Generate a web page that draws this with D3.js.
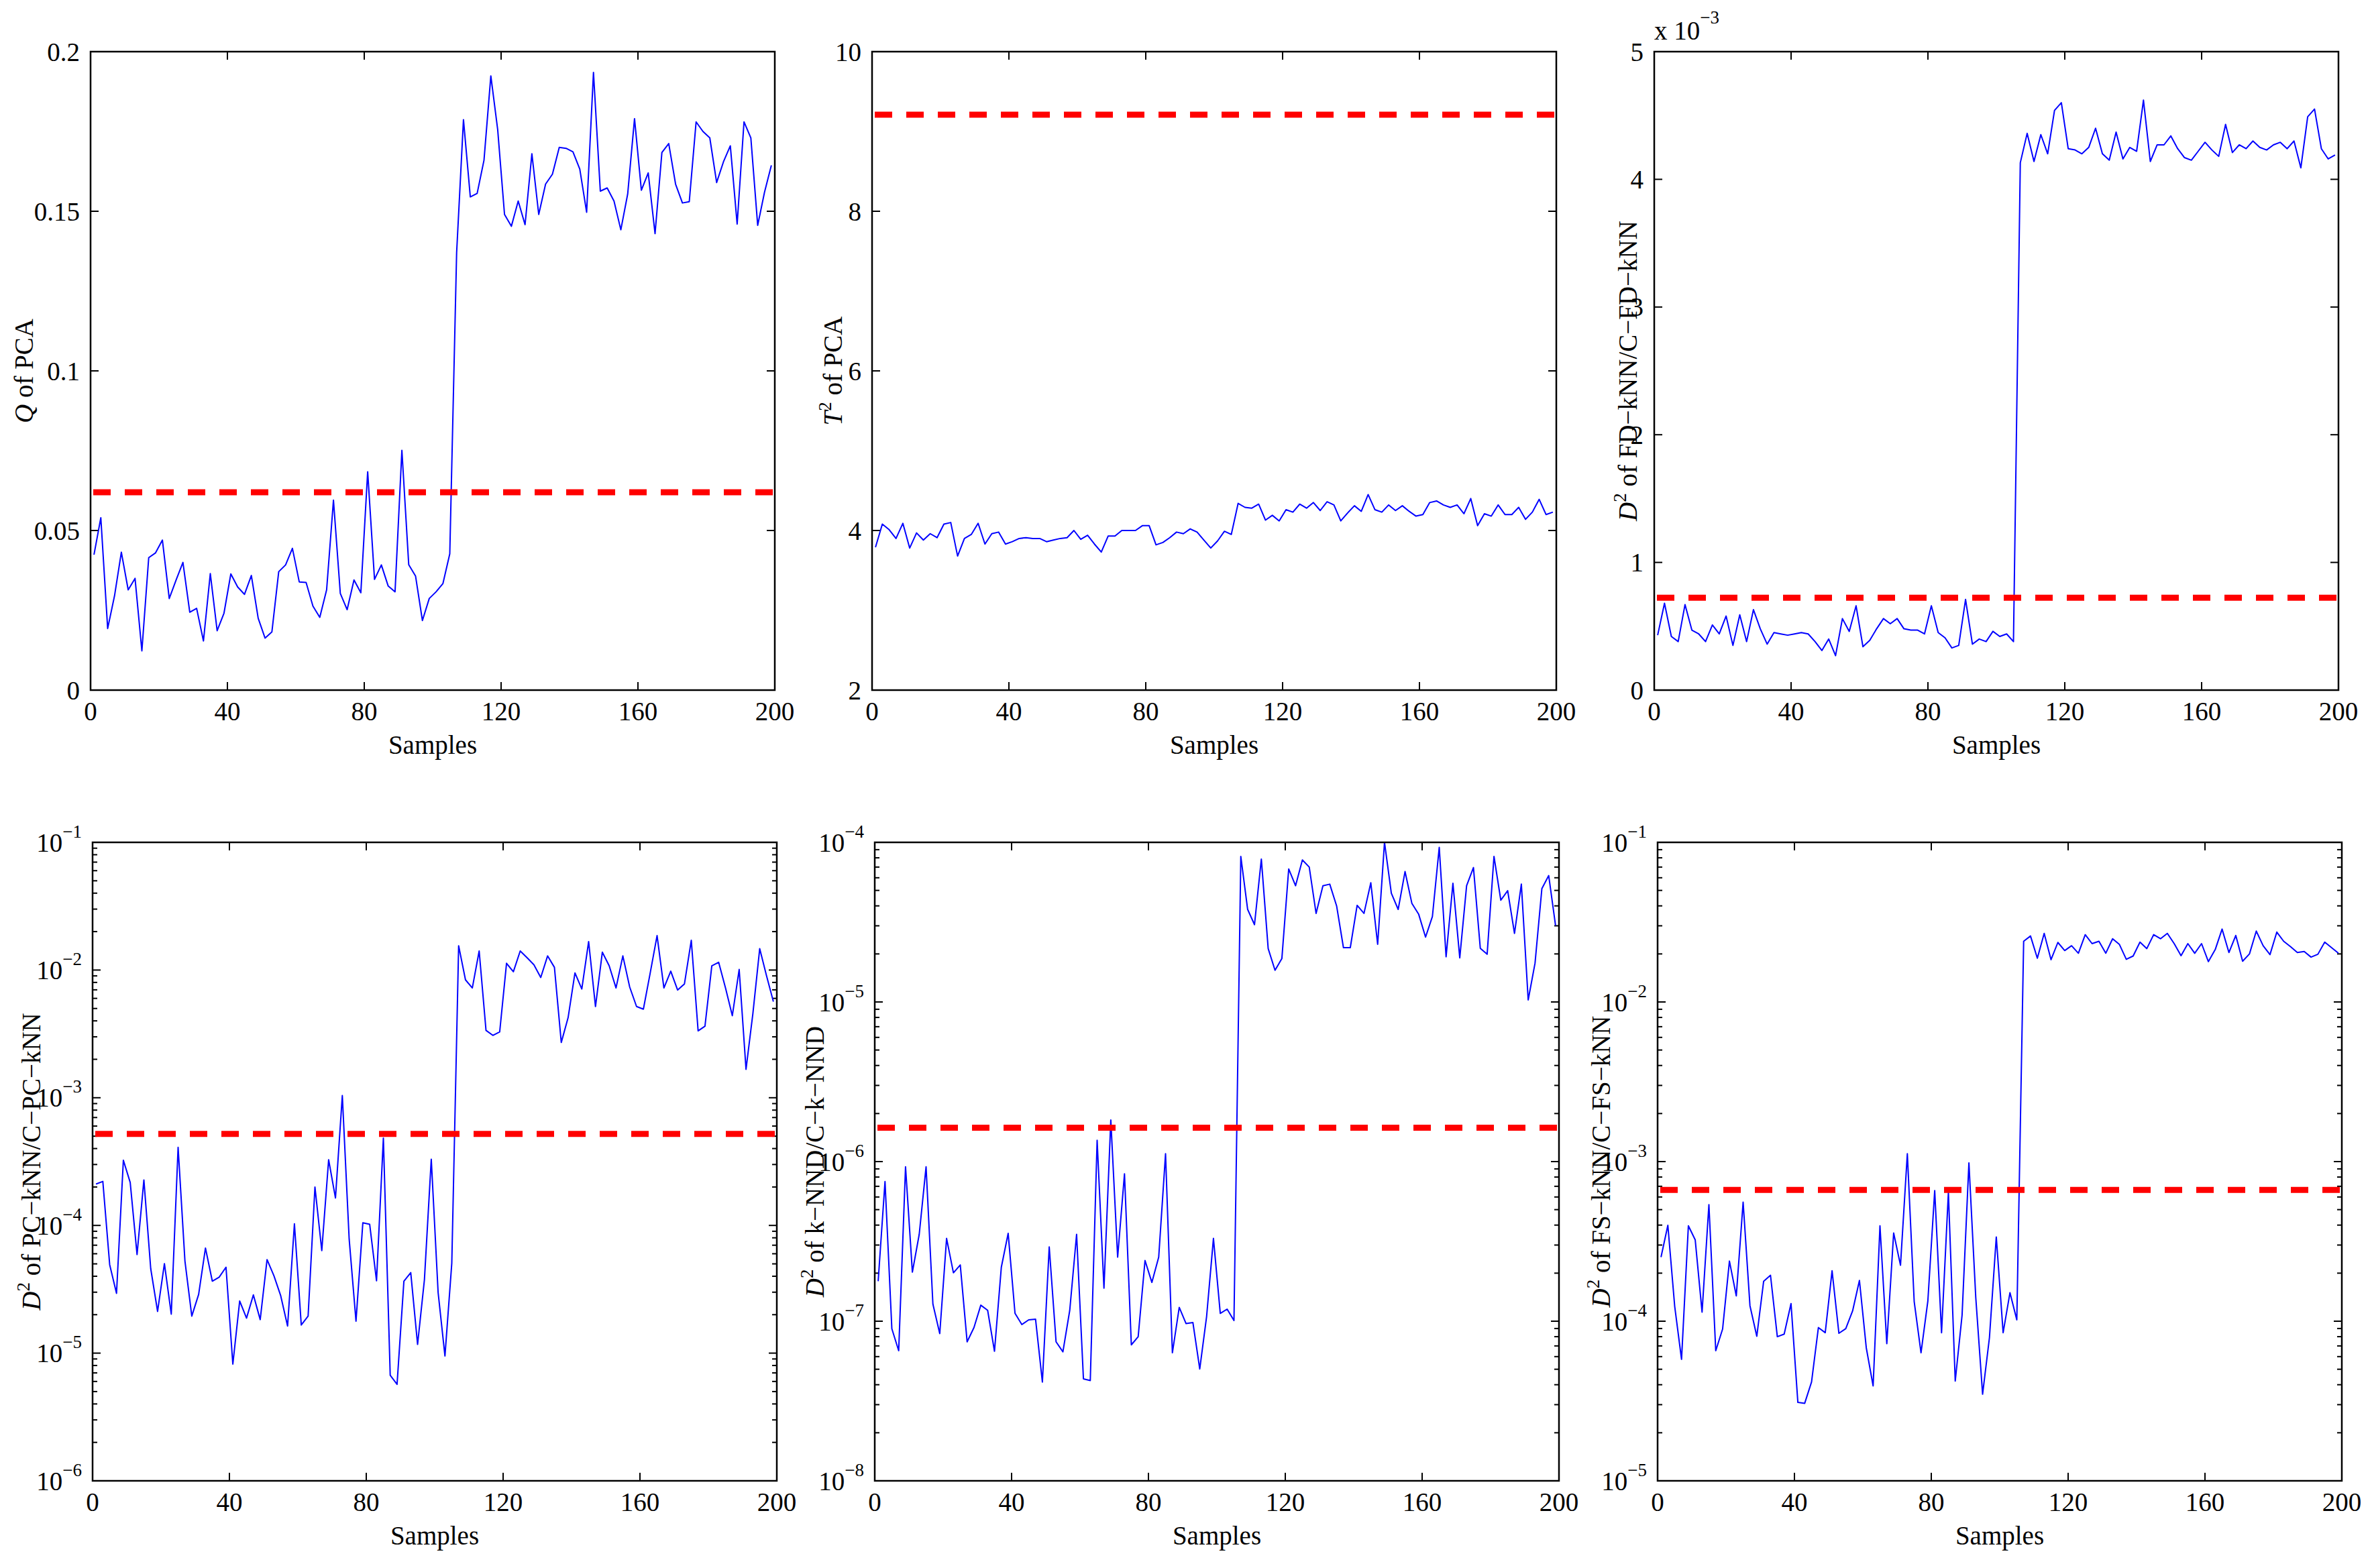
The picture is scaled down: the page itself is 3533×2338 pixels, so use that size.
<!DOCTYPE html>
<meta charset="utf-8">
<style>
  body { margin: 0; background: #fff; }
  svg text { font-family: "Liberation Serif", "Times New Roman", serif; fill: #000; }
  .frame { fill: none; stroke: #000; stroke-width: 2.5px; }
  .tick line { stroke: #000; stroke-width: 2px; }
  .series { fill: none; stroke: #0000ff; stroke-width: 2px; stroke-linejoin: round; }
  .limit { stroke: #ff0000; stroke-width: 9px; stroke-dasharray: 26,21; }
</style>
<svg width="3533" height="2338"></svg>
<script src="https://d3js.org/d3.v7.min.js"></script>
<script>
  // samples 1,3,...,199 (every second sample is plotted)
  var samples = d3.range(1, 200, 2);
  var xTicks = [0, 40, 80, 120, 160, 200];

  var qPca = [0.0424,0.054,0.0193,0.0295,0.0432,0.0314,0.035,0.0123,0.0415,0.043,
    0.047,0.0287,0.0345,0.040,0.0244,0.0256,0.0154,0.0365,0.0186,0.0241,
    0.0364,0.0323,0.030,0.0359,0.0225,0.0163,0.0182,0.0371,0.0392,0.0444,
    0.0339,0.0337,0.0263,0.0228,0.0314,0.0595,0.0303,0.0252,0.0345,0.0305,
    0.0684,0.0347,0.0392,0.0326,0.0308,0.0751,0.0393,0.0357,0.0218,0.0287,
    0.0308,0.0334,0.0427,0.137,0.1787,0.1545,0.1556,0.166,0.1924,0.1756,
    0.149,0.1453,0.1532,0.1458,0.168,0.149,0.1585,0.1616,0.170,0.1697,
    0.1686,0.1632,0.1497,0.1935,0.1563,0.1573,0.1532,0.1442,0.1554,0.179,
    0.1566,0.162,0.143,0.1684,0.1712,0.1585,0.1526,0.153,0.178,0.175,
    0.173,0.159,0.1655,0.1705,0.146,0.178,0.173,0.1456,0.156,0.1644];

  var t2Pca = [3.79,4.08,4.01,3.90,4.09,3.78,3.97,3.88,3.96,3.91,
    4.08,4.10,3.68,3.90,3.95,4.09,3.83,3.96,3.98,3.83,
    3.86,3.90,3.91,3.90,3.90,3.86,3.88,3.90,3.91,4.00,
    3.89,3.94,3.83,3.73,3.93,3.93,4.00,4.00,4.00,4.06,
    4.06,3.82,3.85,3.91,3.98,3.96,4.02,3.98,3.88,3.78,
    3.87,3.99,3.95,4.34,4.29,4.28,4.33,4.13,4.19,4.12,
    4.26,4.23,4.33,4.28,4.35,4.25,4.36,4.32,4.12,4.22,
    4.31,4.24,4.45,4.26,4.23,4.32,4.25,4.31,4.24,4.18,
    4.20,4.35,4.37,4.32,4.29,4.32,4.21,4.40,4.06,4.21,
    4.18,4.32,4.20,4.20,4.29,4.14,4.23,4.39,4.20,4.23];

  // FD-kNN values, read in units of 1e-3
  var d2FdMilli = [0.43,0.68,0.42,0.38,0.67,0.47,0.44,0.38,0.51,0.44,
    0.58,0.35,0.59,0.38,0.63,0.48,0.36,0.45,0.44,0.43,
    0.44,0.45,0.44,0.38,0.31,0.40,0.27,0.56,0.46,0.66,
    0.34,0.39,0.48,0.56,0.52,0.56,0.48,0.47,0.47,0.44,
    0.66,0.45,0.41,0.33,0.35,0.71,0.36,0.40,0.38,0.46,
    0.42,0.44,0.38,4.13,4.36,4.14,4.35,4.20,4.54,4.60,
    4.24,4.23,4.20,4.25,4.40,4.20,4.15,4.37,4.16,4.25,
    4.22,4.62,4.14,4.27,4.27,4.34,4.24,4.17,4.15,4.22,
    4.29,4.23,4.18,4.43,4.21,4.27,4.24,4.30,4.25,4.23,
    4.27,4.29,4.24,4.30,4.09,4.49,4.55,4.24,4.16,4.19];
  var d2Fd = d2FdMilli.map(function(v) { return v * 1e-3; });

  var d2Pc = [2.11e-4,2.21e-4,4.93e-5,2.94e-5,3.24e-4,2.17e-4,5.92e-5,2.27e-4,4.58e-5,2.12e-5,
    5.02e-5,2.02e-5,4.09e-4,5.26e-5,1.95e-5,2.88e-5,6.65e-5,3.66e-5,3.93e-5,4.71e-5,
    8.2e-6,2.56e-5,1.88e-5,2.86e-5,1.83e-5,5.40e-5,4.04e-5,2.81e-5,1.63e-5,1.03e-4,
    1.66e-5,1.95e-5,2.00e-4,6.35e-5,3.27e-4,1.64e-4,1.04e-3,7.83e-5,1.78e-5,1.05e-4,
    1.02e-4,3.69e-5,4.83e-4,6.7e-6,5.7e-6,3.66e-5,4.27e-5,1.17e-5,3.76e-5,3.30e-4,
    2.99e-5,9.5e-6,5.07e-5,1.55e-2,8.38e-3,7.24e-3,1.41e-2,3.37e-3,3.08e-3,3.28e-3,
    1.13e-2,9.7e-3,1.41e-2,1.25e-2,1.10e-2,8.75e-3,1.29e-2,1.05e-2,2.71e-3,4.24e-3,
    9.5e-3,7.11e-3,1.67e-2,5.18e-3,1.38e-2,1.08e-2,7.24e-3,1.29e-2,7.36e-3,5.18e-3,
    4.94e-3,9.5e-3,1.86e-2,7.24e-3,9.8e-3,6.98e-3,7.78e-3,1.71e-2,3.34e-3,3.63e-3,
    1.08e-2,1.15e-2,7.24e-3,4.39e-3,1.01e-2,1.67e-3,4.55e-3,1.47e-2,9.0e-3,5.66e-3];

  var d2Knnd = [1.78e-7,7.5e-7,8.97e-8,6.53e-8,9.27e-7,2.03e-7,3.50e-7,9.27e-7,1.28e-7,8.36e-8,
    3.30e-7,2.01e-7,2.25e-7,7.43e-8,9.12e-8,1.26e-7,1.17e-7,6.48e-8,2.18e-7,3.55e-7,
    1.12e-7,9.53e-8,1.02e-7,1.03e-7,4.16e-8,2.92e-7,7.43e-8,6.43e-8,1.17e-7,3.50e-7,
    4.35e-8,4.25e-8,1.36e-6,1.61e-7,1.82e-6,2.52e-7,8.38e-7,7.11e-8,8.0e-8,2.40e-7,
    1.75e-7,2.52e-7,1.12e-6,6.34e-8,1.22e-7,9.66e-8,9.8e-8,5.02e-8,1.07e-7,3.30e-7,
    1.12e-7,1.19e-7,1.01e-7,8.16e-5,3.80e-5,3.05e-5,7.86e-5,2.16e-5,1.58e-5,1.87e-5,
    6.81e-5,5.35e-5,7.76e-5,7.0e-5,3.59e-5,5.35e-5,5.47e-5,4.0e-5,2.19e-5,2.19e-5,
    4.03e-5,3.59e-5,5.58e-5,2.30e-5,1.0e-4,4.80e-5,3.80e-5,6.56e-5,4.15e-5,3.54e-5,
    2.55e-5,3.43e-5,9.3e-5,1.92e-5,5.54e-5,1.89e-5,5.35e-5,6.95e-5,2.17e-5,1.99e-5,
    8.16e-5,4.34e-5,4.98e-5,2.69e-5,5.47e-5,1.03e-5,1.75e-5,5.13e-5,6.19e-5,3.01e-5];

  var d2Fs = [2.52e-4,3.99e-4,1.24e-4,5.77e-5,3.96e-4,3.23e-4,1.14e-4,5.37e-4,6.53e-5,8.92e-5,
    2.38e-4,1.44e-4,5.57e-4,1.25e-4,8.05e-5,1.78e-4,1.94e-4,8.0e-5,8.3e-5,1.29e-4,
    3.10e-5,3.06e-5,4.16e-5,9.12e-5,8.47e-5,2.07e-4,8.4e-5,8.98e-5,1.16e-4,1.80e-4,
    6.81e-5,3.93e-5,3.96e-4,7.23e-5,3.57e-4,2.24e-4,1.12e-3,1.33e-4,6.34e-5,1.34e-4,
    6.58e-4,8.47e-5,6.4e-4,4.22e-5,1.09e-4,9.82e-4,1.41e-4,3.49e-5,7.89e-5,3.37e-4,
    8.47e-5,1.51e-4,1.02e-4,2.40e-2,2.59e-2,1.88e-2,2.69e-2,1.84e-2,2.36e-2,2.10e-2,
    2.25e-2,2.02e-2,2.64e-2,2.32e-2,2.40e-2,2.02e-2,2.49e-2,2.29e-2,1.85e-2,1.94e-2,
    2.37e-2,2.16e-2,2.64e-2,2.49e-2,2.69e-2,2.32e-2,1.95e-2,2.32e-2,2.02e-2,2.32e-2,
    1.79e-2,2.13e-2,2.86e-2,2.04e-2,2.61e-2,1.80e-2,2.00e-2,2.78e-2,2.25e-2,1.98e-2,
    2.74e-2,2.40e-2,2.22e-2,2.04e-2,2.07e-2,1.91e-2,1.99e-2,2.37e-2,2.19e-2,2.02e-2];

  // control limits (red dashed lines)
  var limQ = 0.062, limT2 = 9.21, limFd = 0.723e-3, limPc = 5.2e-4, limKnnd = 1.63e-6, limFs = 6.64e-4;

  var svg = d3.select("svg");
  var W = 1020, H = 952;

  var panels = [
    {left: 135, top: 77, vals: qPca, lim: limQ, log: false, domain: [0, 0.2],
      ticks: [0, 0.05, 0.1, 0.15, 0.2], labX: -86, label: [["Q", "i"], [" of PCA", ""]]},
    {left: 1300, top: 77, vals: t2Pca, lim: limT2, log: false, domain: [2, 10],
      ticks: [2, 4, 6, 8, 10], labX: -45, label: [["T", "i"], ["2", "s"], [" of PCA", ""]]},
    {left: 2466, top: 77, vals: d2Fd, lim: limFd, log: false, domain: [0, 5e-3],
      ticks: [0, 1e-3, 2e-3, 3e-3, 4e-3, 5e-3], scale: 1e-3, labX: -26,
      label: [["D", "i"], ["2", "s"], [" of FD\u2212kNN/C\u2212FD\u2212kNN", ""]]},
    {left: 138, top: 1256, vals: d2Pc, lim: limPc, log: true, domain: [1e-6, 1e-1], labX: -78,
      label: [["D", "i"], ["2", "s"], [" of PC\u2212kNN/C\u2212PC\u2212kNN", ""]]},
    {left: 1304, top: 1256, vals: d2Knnd, lim: limKnnd, log: true, domain: [1e-8, 1e-4], labX: -76,
      label: [["D", "i"], ["2", "s"], [" of k\u2212NND/C\u2212k\u2212NND", ""]]},
    {left: 2471, top: 1256, vals: d2Fs, lim: limFs, log: true, domain: [1e-5, 1e-1], labX: -71,
      label: [["D", "i"], ["2", "s"], [" of FS\u2212kNN/C\u2212FS\u2212kNN", ""]]}
  ];

  panels.forEach(drawPanel);

  function drawPanel(p) {
    var g = svg.append("g").attr("transform", "translate(" + p.left + "," + p.top + ")");
    var x = d3.scaleLinear().domain([0, 200]).range([0, W]);
    var y = (p.log ? d3.scaleLog() : d3.scaleLinear()).domain(p.domain).range([H, 0]);
    var major = 12, minor = 7;

    // x ticks (bottom and top, inward)
    var xt = g.append("g").attr("class", "tick");
    xTicks.forEach(function(t) {
      xt.append("line").attr("x1", x(t)).attr("x2", x(t)).attr("y1", H).attr("y2", H - major);
      xt.append("line").attr("x1", x(t)).attr("x2", x(t)).attr("y1", 0).attr("y2", major);
      g.append("text").attr("x", x(t)).attr("y", H + 45).attr("text-anchor", "middle")
        .style("font-size", "39px").text(t);
    });

    // y ticks (left and right, inward)
    var yt = g.append("g").attr("class", "tick");
    var majors, minors = [];
    if (p.log) {
      var e0 = Math.round(Math.log10(p.domain[0])), e1 = Math.round(Math.log10(p.domain[1]));
      majors = d3.range(e0, e1 + 1).map(function(e) { return Math.pow(10, e); });
      d3.range(e0, e1).forEach(function(e) {
        for (var m = 2; m <= 9; m++) minors.push(m * Math.pow(10, e));
      });
    } else {
      majors = p.ticks;
    }
    majors.forEach(function(v) {
      yt.append("line").attr("x1", 0).attr("x2", major).attr("y1", y(v)).attr("y2", y(v));
      yt.append("line").attr("x1", W).attr("x2", W - major).attr("y1", y(v)).attr("y2", y(v));
      var t = g.append("text").attr("x", -16).attr("y", y(v)).attr("dy", "0.35em")
        .attr("text-anchor", "end").style("font-size", "39px");
      if (p.log) {
        t.append("tspan").text("10");
        t.append("tspan").attr("dy", "-21px").style("font-size", "27px")
          .text("\u2212" + Math.abs(Math.round(Math.log10(v))));
      } else {
        t.text(p.scale ? String(Math.round(v / p.scale)) : String(v));
      }
    });
    minors.forEach(function(v) {
      yt.append("line").attr("x1", 0).attr("x2", minor).attr("y1", y(v)).attr("y2", y(v));
      yt.append("line").attr("x1", W).attr("x2", W - minor).attr("y1", y(v)).attr("y2", y(v));
    });

    // multiplier for scaled axis
    if (p.scale) {
      var m = g.append("text").attr("x", 0).attr("y", -18).style("font-size", "39px");
      m.append("tspan").text("x 10");
      m.append("tspan").attr("dy", "-24px").style("font-size", "27px").text("\u22123");
    }

    // data line
    var line = d3.line()
      .x(function(d, i) { return x(samples[i]); })
      .y(function(d) { return y(d); });
    g.append("path").datum(p.vals).attr("class", "series").attr("d", line);

    // control limit
    g.append("line").attr("class", "limit")
      .attr("x1", x(0) + 4).attr("x2", x(200)).attr("y1", y(p.lim)).attr("y2", y(p.lim));

    g.append("rect").attr("class", "frame").attr("width", W).attr("height", H);

    // axis labels
    g.append("text").attr("x", W / 2).attr("y", H + 95).attr("text-anchor", "middle")
      .style("font-size", "39px").text("Samples");

    var yl = g.append("text").attr("transform", "translate(" + p.labX + "," + (H / 2) + ") rotate(-90)")
      .attr("text-anchor", "middle").style("font-size", "39px");
    var raised = false;
    p.label.forEach(function(part) {
      var ts = yl.append("tspan").text(part[0]);
      if (part[1] === "i") ts.style("font-style", "italic");
      if (part[1] === "s") { ts.attr("dy", "-16px").style("font-size", "27px"); raised = true; }
      else if (raised) { ts.attr("dy", "16px"); raised = false; }
    });
  }
</script>
